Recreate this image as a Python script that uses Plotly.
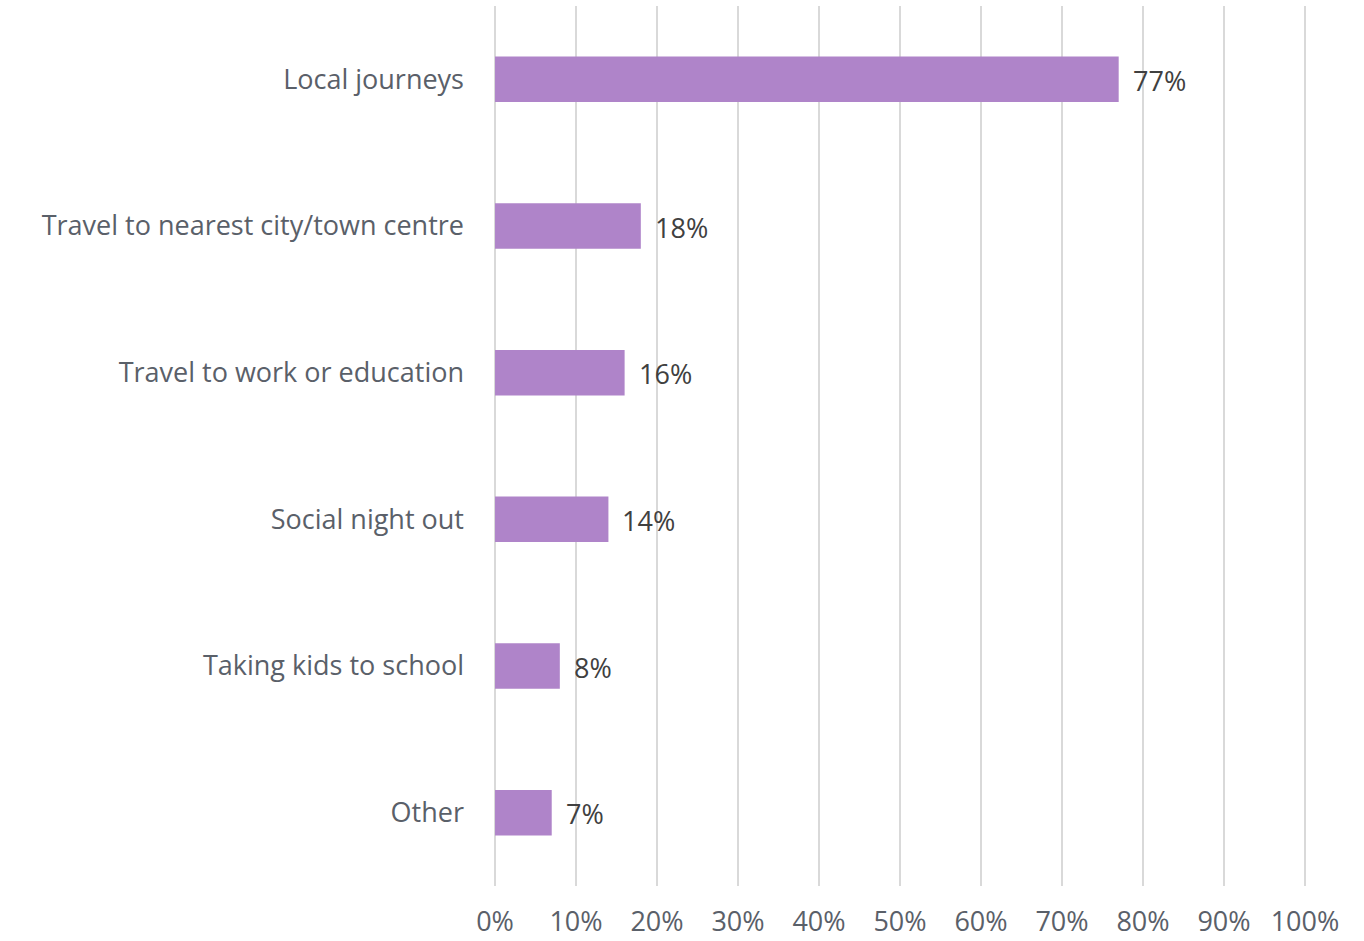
import plotly.graph_objects as go

categories = ["Local journeys", "Travel to nearest city/town centre", "Travel to work or education",
              "Social night out", "Taking kids to school", "Other"]
values = [77, 18, 16, 14, 8, 7]
x_ticks = [0, 10, 20, 30, 40, 50, 60, 70, 80, 90, 100]
x_tick_labels = [f"{v}%" for v in x_ticks]

FONT = "'Open Sans', sans-serif"
bar_color = "#AF84C9"

fig = go.Figure()
fig.add_trace(go.Bar(
    y=categories, x=values, orientation="h",
    marker=dict(color=bar_color, line=dict(width=0)),
    width=0.31, hoverinfo="skip",
))

for c, v in zip(categories, values):
    fig.add_annotation(x=v, y=c, text=f"{v}%", showarrow=False, xanchor="left",
                       xshift=12, yshift=-1, font=dict(family=FONT, size=27, color="#404040"))

fig.update_layout(
    width=1364, height=941,
    margin=dict(l=493, r=57, t=6, b=55),
    paper_bgcolor="white", plot_bgcolor="white",
    showlegend=False,
    font=dict(family=FONT, size=27, color="#5a6069"),
    xaxis=dict(range=[-0.25, 100.25], tickvals=x_ticks, ticktext=x_tick_labels,
               showgrid=True, gridcolor="#d9d9d9", gridwidth=2,
               zeroline=False, showline=False, ticks="", automargin=False,
               ticklabelstandoff=17,
               tickfont=dict(family=FONT, size=27, color="#5a6069")),
    yaxis=dict(categoryorder="array", categoryarray=categories[::-1],
               showgrid=False, zeroline=False, showline=False, ticks="", automargin=False,
               ticklabelstandoff=28,
               tickfont=dict(family=FONT, size=27, color="#5a6069")),
)

fig.write_html("out.html")
